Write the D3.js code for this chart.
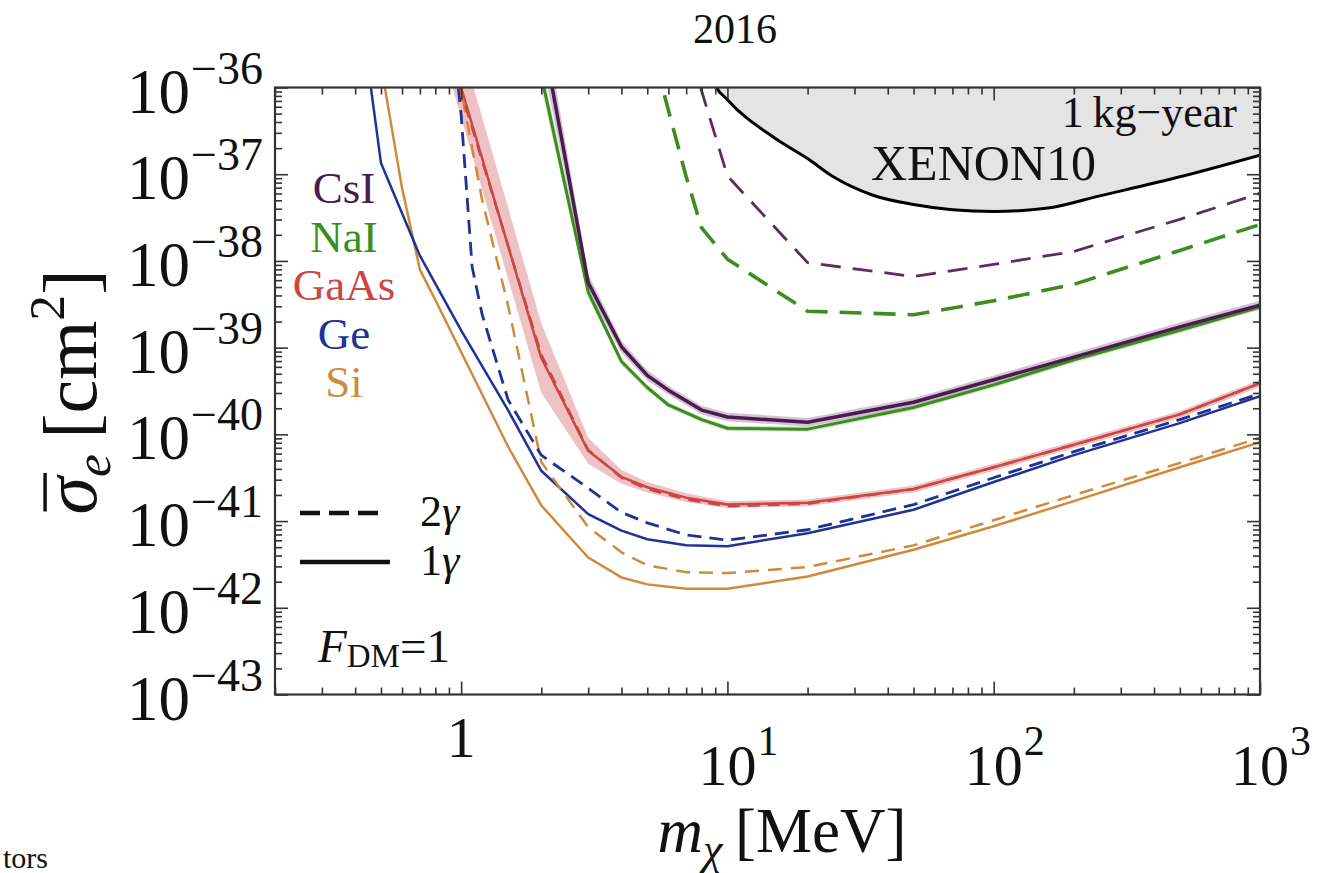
<!DOCTYPE html>
<html>
<head>
<meta charset="utf-8">
<script src="https://cdn.jsdelivr.net/npm/d3@7"></script>
<style>
  html, body { margin: 0; padding: 0; background: #fff; }
  svg { display: block; }
  text { font-family: "Liberation Serif", "Times New Roman", serif; fill: #111; }
</style>
</head>
<body>
<svg id="chart" width="1323" height="873"></svg>
<script>
// Dark-matter mass grid (MeV) and log10 of the cross-section reach (cm^2)
const csiMass = [2, 3, 4, 5, 6, 8, 10, 20, 50, 100, 200, 500, 1000];
const csiOne  = [-35.32, -38.25, -38.99, -39.32, -39.49, -39.72, -39.80, -39.86, -39.63, -39.37, -39.11, -38.76, -38.51];
const csiBand = [0.30, 0.10, 0.07, 0.06, 0.05, 0.05, 0.05, 0.05, 0.05, 0.05, 0.05, 0.05, 0.05];

const naiMass = [2, 3, 4, 5, 6, 8, 10, 20, 50, 100, 200, 500, 1000];
const naiOne  = [-35.86, -38.36, -39.16, -39.46, -39.66, -39.83, -39.93, -39.94, -39.69, -39.43, -39.14, -38.80, -38.53];
const naiBand = [0.15, 0.06, 0.04, 0.03, 0.03, 0.03, 0.03, 0.03, 0.03, 0.03, 0.03, 0.03, 0.03];

const csiTwoMass = [7, 8, 10, 20, 50, 100, 200, 500, 1000];
const csiTwo     = [-35.28, -36.04, -37.02, -38.02, -38.18, -38.04, -37.89, -37.52, -37.22];

const naiTwoMass = [5, 6, 7, 8, 10, 20, 50, 100, 200, 500, 1000];
const naiTwo     = [-35.33, -36.26, -37.03, -37.62, -37.98, -38.58, -38.62, -38.46, -38.27, -37.88, -37.58];

const gaasMass     = [0.9, 1, 2, 3, 4, 5, 7, 10, 20, 50, 100, 200, 500, 1000];
const gaasOne      = [-35.51, -36.00, -39.12, -40.19, -40.49, -40.61, -40.73, -40.81, -40.79, -40.63, -40.38, -40.12, -39.77, -39.41];
const gaasTwo      = [-35.55, -36.05, -39.08, -40.18, -40.50, -40.63, -40.75, -40.83, -40.80, -40.63, -40.38, -40.12, -39.77, -39.41];
const gaasBandUp   = [0.50, 0.50, 0.40, 0.15, 0.08, 0.06, 0.05, 0.04, 0.04, 0.04, 0.04, 0.04, 0.04, 0.04];
const gaasBandDown = [0.35, 0.35, 0.40, 0.15, 0.08, 0.06, 0.05, 0.04, 0.04, 0.04, 0.04, 0.04, 0.04, 0.04];

const geMass = [0.45, 0.5, 0.7, 1, 1.5, 2, 3, 4, 5, 7, 10, 20, 50, 100, 200, 500, 1000];
const geOne  = [-35.82, -36.87, -37.94, -38.80, -39.72, -40.42, -40.92, -41.11, -41.21, -41.28, -41.29, -41.14, -40.87, -40.55, -40.24, -39.87, -39.56];

const geTwoMass = [0.9, 1, 1.1, 1.2, 1.5, 2, 3, 4, 5, 7, 10, 20, 50, 100, 200, 500, 1000];
const geTwo     = [-35.00, -36.31, -38.07, -38.62, -39.60, -40.24, -40.62, -40.90, -41.02, -41.16, -41.22, -41.10, -40.81, -40.50, -40.20, -39.83, -39.53];

const siMass = [0.5, 0.6, 0.7, 0.8, 1, 1.5, 2, 3, 4, 5, 7, 10, 20, 50, 100, 200, 500, 1000];
const siOne  = [-35.74, -37.16, -38.10, -38.45, -39.05, -40.14, -40.82, -41.42, -41.65, -41.73, -41.78, -41.78, -41.64, -41.33, -41.06, -40.77, -40.38, -40.09];

const siTwoMass = [0.9, 1, 1.2, 1.5, 2, 3, 4, 5, 7, 10, 20, 50, 100, 200, 500, 1000];
const siTwo     = [-35.35, -36.04, -37.30, -38.51, -40.32, -41.07, -41.36, -41.51, -41.59, -41.60, -41.53, -41.28, -40.99, -40.70, -40.33, -40.04];

// XENON10 exclusion (1 kg-year)
const xenonMass = [8.5, 9, 10, 15, 20, 25, 35, 50, 70, 100, 160, 250, 500, 1000];
const xenonLog  = [-35.60, -35.97, -36.14, -36.58, -36.82, -37.03, -37.24, -37.35, -37.41, -37.43, -37.39, -37.25, -37.03, -36.78];

// Axis ticks and labels
const xTickValues = [1, 10, 100, 1000];
const xTickExps   = [null, 1, 2, 3];
const yTickExps   = [-36, -37, -38, -39, -40, -41, -42, -43];

const legendNames  = ["CsI", "NaI", "GaAs", "Ge", "Si"];
const legendColors = ["#4a1c4e", "#3d8c1f", "#cc4646", "#1f3296", "#cf8a3c"];

// ---------------------------------------------------------------------------
const svg = d3.select("#chart");
const L = 275, R = 1260, T = 87.5, B = 694.5;

const x = d3.scaleLog().domain([0.2, 1000]).range([L, R]);
const y = d3.scaleLog().domain([1e-43, 1e-36]).range([B, T]);

const pts = (ms, ls) => ms.map((m, i) => [m, Math.pow(10, ls[i])]);

svg.append("defs").append("clipPath").attr("id", "plotClip")
  .append("rect").attr("x", L).attr("y", T).attr("width", R - L).attr("height", B - T);

const plot = svg.append("g").attr("clip-path", "url(#plotClip)");

const line = d3.line().x(d => x(d[0])).y(d => y(d[1]));
const smoothLine = d3.line().x(d => x(d[0])).y(d => y(d[1])).curve(d3.curveMonotoneX);

// XENON10 shaded region
const xenonPts = pts(xenonMass, xenonLog);
plot.append("path")
  .datum(xenonPts)
  .attr("d", d3.area().x(d => x(d[0])).y0(T - 20).y1(d => y(d[1])).curve(d3.curveMonotoneX))
  .attr("fill", "#e4e4e4");
plot.append("path")
  .datum(xenonPts)
  .attr("d", smoothLine)
  .attr("fill", "none").attr("stroke", "#000").attr("stroke-width", 3);

// Uncertainty bands
function band(ms, ls, up, down, color, opacity) {
  const data = ms.map((m, i) => [m, Math.pow(10, ls[i] + up[i]), Math.pow(10, ls[i] - down[i])]);
  plot.append("path")
    .datum(data)
    .attr("d", d3.area().x(d => x(d[0])).y0(d => y(d[1])).y1(d => y(d[2])))
    .attr("fill", color).attr("fill-opacity", opacity);
}
band(gaasMass, gaasOne, gaasBandUp, gaasBandDown, "#e08f8f", 0.55);
band(naiMass, naiOne, naiBand, naiBand, "#9fd38c", 0.55);
band(csiMass, csiOne, csiBand, csiBand, "#b89bbd", 0.6);

function curve(ms, ls, color, width, dash) {
  plot.append("path")
    .datum(pts(ms, ls))
    .attr("d", line)
    .attr("fill", "none")
    .attr("stroke", color)
    .attr("stroke-width", width)
    .attr("stroke-linejoin", "round")
    .attr("stroke-dasharray", dash || null);
}

// 1-gamma (solid) curves
curve(siMass, siOne, legendColors[4], 2.5);
curve(geMass, geOne, legendColors[3], 2.5);
curve(gaasMass, gaasOne, legendColors[2], 2.5);
curve(naiMass, naiOne, legendColors[1], 3);
curve(csiMass, csiOne, legendColors[0], 3.5);

// 2-gamma (dashed) curves
curve(siTwoMass, siTwo, legendColors[4], 2.5, "14,9");
curve(geTwoMass, geTwo, legendColors[3], 2.8, "14,8");
curve(gaasMass, gaasTwo, legendColors[2], 2.5, "12,8");
curve(naiTwoMass, naiTwo, legendColors[1], 3.6, "22,12");
curve(csiTwoMass, csiTwo, "#5b2d61", 2.8, "20,12");

// ---------------------------------------------------------------------------
// Frame and inward ticks on all four sides
const xMinor = [], yMinor = [];
[0.1, 1, 10, 100].forEach(d => { for (let k = 2; k <= 9; k++) { const v = k * d; if (v >= 0.2 && v < 1000) xMinor.push(v); } });
for (let e = -43; e < -36; e++) for (let k = 2; k <= 9; k++) yMinor.push(k * Math.pow(10, e));
const yMajor = yTickExps.map(e => Math.pow(10, e));

function ticks(axisFn, scale, values, size, transform) {
  const g = svg.append("g").attr("transform", transform)
    .call(axisFn(scale).tickValues(values).tickSize(size).tickFormat(""));
  g.select(".domain").remove();
  g.selectAll(".tick line").attr("stroke", "#333").attr("stroke-width", 1.6);
}
ticks(d3.axisBottom, x, xTickValues, -13, `translate(0,${B})`);
ticks(d3.axisBottom, x, xMinor, -7, `translate(0,${B})`);
ticks(d3.axisTop, x, xTickValues, -13, `translate(0,${T})`);
ticks(d3.axisTop, x, xMinor, -7, `translate(0,${T})`);
ticks(d3.axisLeft, y, yMajor, -13, `translate(${L},0)`);
ticks(d3.axisLeft, y, yMinor, -7, `translate(${L},0)`);
ticks(d3.axisRight, y, yMajor, -13, `translate(${R},0)`);
ticks(d3.axisRight, y, yMinor, -7, `translate(${R},0)`);

svg.append("rect")
  .attr("x", L).attr("y", T).attr("width", R - L).attr("height", B - T)
  .attr("fill", "none").attr("stroke", "#333").attr("stroke-width", 2.2);

// ---------------------------------------------------------------------------
// Tick labels
const BIG = 63, SUP = 46;
yTickExps.forEach(e => {
  const ty = y(Math.pow(10, e));
  const sup = svg.append("text").attr("x", 263).attr("y", ty - 4)
    .attr("text-anchor", "end").attr("font-size", SUP).text("\u2212" + Math.abs(e));
  const w = sup.node().getComputedTextLength();
  svg.append("text").attr("x", 263 - w - 1).attr("y", ty + 25)
    .attr("text-anchor", "end").attr("font-size", BIG).text("10");
});

const XBIG = 58, XSUP = 42;
xTickValues.forEach((v, i) => {
  const tx = x(v);
  if (xTickExps[i] === null) {
    svg.append("text").attr("x", tx).attr("y", 757).attr("text-anchor", "middle")
      .attr("font-size", XBIG).text(String(v));
  } else {
    const base = svg.append("text").attr("x", tx).attr("y", 785).attr("text-anchor", "middle")
      .attr("font-size", XBIG).text("10");
    const w = base.node().getComputedTextLength();
    svg.append("text").attr("x", tx + w / 2 + 1).attr("y", 755)
      .attr("font-size", XSUP).text(String(xTickExps[i]));
  }
});

// Axis titles
const xt = svg.append("text").attr("x", 782).attr("y", 852).attr("text-anchor", "middle").attr("font-size", 63);
xt.append("tspan").attr("font-style", "italic").text("m");
xt.append("tspan").attr("font-style", "italic").attr("font-size", 44).attr("dy", 12).text("\u03C7");
xt.append("tspan").attr("dy", -12).text("\u2009[MeV]");

const YT = 76;
const yg = svg.append("g").attr("transform", "translate(96,392) rotate(-90)");
const yt = yg.append("text").attr("x", 0).attr("y", 0).attr("text-anchor", "middle").attr("font-size", YT);
yt.append("tspan").attr("font-style", "italic").text("\u03C3");
yt.append("tspan").attr("font-style", "italic").attr("font-size", YT * 0.68).attr("dy", 14).text("e");
yt.append("tspan").attr("dy", -14).text("\u2009[cm");
yt.append("tspan").attr("font-size", YT * 0.68).attr("dy", -32).text("2");
yt.append("tspan").attr("font-size", YT).attr("dy", 32).text("]");
// overbar on sigma
{
  const n = yt.node();
  const s0 = n.getStartPositionOfChar(0), s1 = n.getEndPositionOfChar(0);
  yg.append("line").attr("x1", s0.x + 3).attr("x2", s1.x + 4)
    .attr("y1", -YT * 0.67).attr("y2", -YT * 0.67).attr("stroke", "#111").attr("stroke-width", 3.5);
}

// Title
svg.append("text").attr("x", 735).attr("y", 43).attr("text-anchor", "middle")
  .attr("font-size", 42).text("2016");

// Material legend
legendNames.forEach((name, i) => {
  svg.append("text").attr("x", 344).attr("y", 203 + i * 48.5).attr("text-anchor", "middle")
    .attr("font-size", 45).style("fill", legendColors[i]).text(name);
});

// Line-style legend
svg.append("line").attr("x1", 300).attr("x2", 378).attr("y1", 513).attr("y2", 513)
  .attr("stroke", "#111").attr("stroke-width", 4.5).attr("stroke-dasharray", "20,9");
svg.append("line").attr("x1", 300).attr("x2", 390).attr("y1", 562).attr("y2", 562)
  .attr("stroke", "#111").attr("stroke-width", 4.5);
const l2 = svg.append("text").attr("x", 420).attr("y", 526).attr("font-size", 44);
l2.append("tspan").text("2");
l2.append("tspan").attr("font-style", "italic").text("\u03B3");
const l1 = svg.append("text").attr("x", 420).attr("y", 575).attr("font-size", 44);
l1.append("tspan").text("1");
l1.append("tspan").attr("font-style", "italic").text("\u03B3");

// F_DM = 1
const fd = svg.append("text").attr("x", 318).attr("y", 662).attr("font-size", 47);
fd.append("tspan").attr("font-style", "italic").text("F");
fd.append("tspan").attr("font-size", 33).attr("dy", 5).text("DM");
fd.append("tspan").attr("dy", -5).text("=1");

// XENON10 annotation
svg.append("text").attr("x", 1237).attr("y", 127).attr("text-anchor", "end")
  .attr("font-size", 44).text("1\u2009kg\u2212year");
svg.append("text").attr("x", 871).attr("y", 180).attr("font-size", 50).text("XENON10");

// caption fragment at the page edge
svg.append("text").attr("x", 3).attr("y", 868).attr("font-size", 30).text("tors");
</script>
</body>
</html>
